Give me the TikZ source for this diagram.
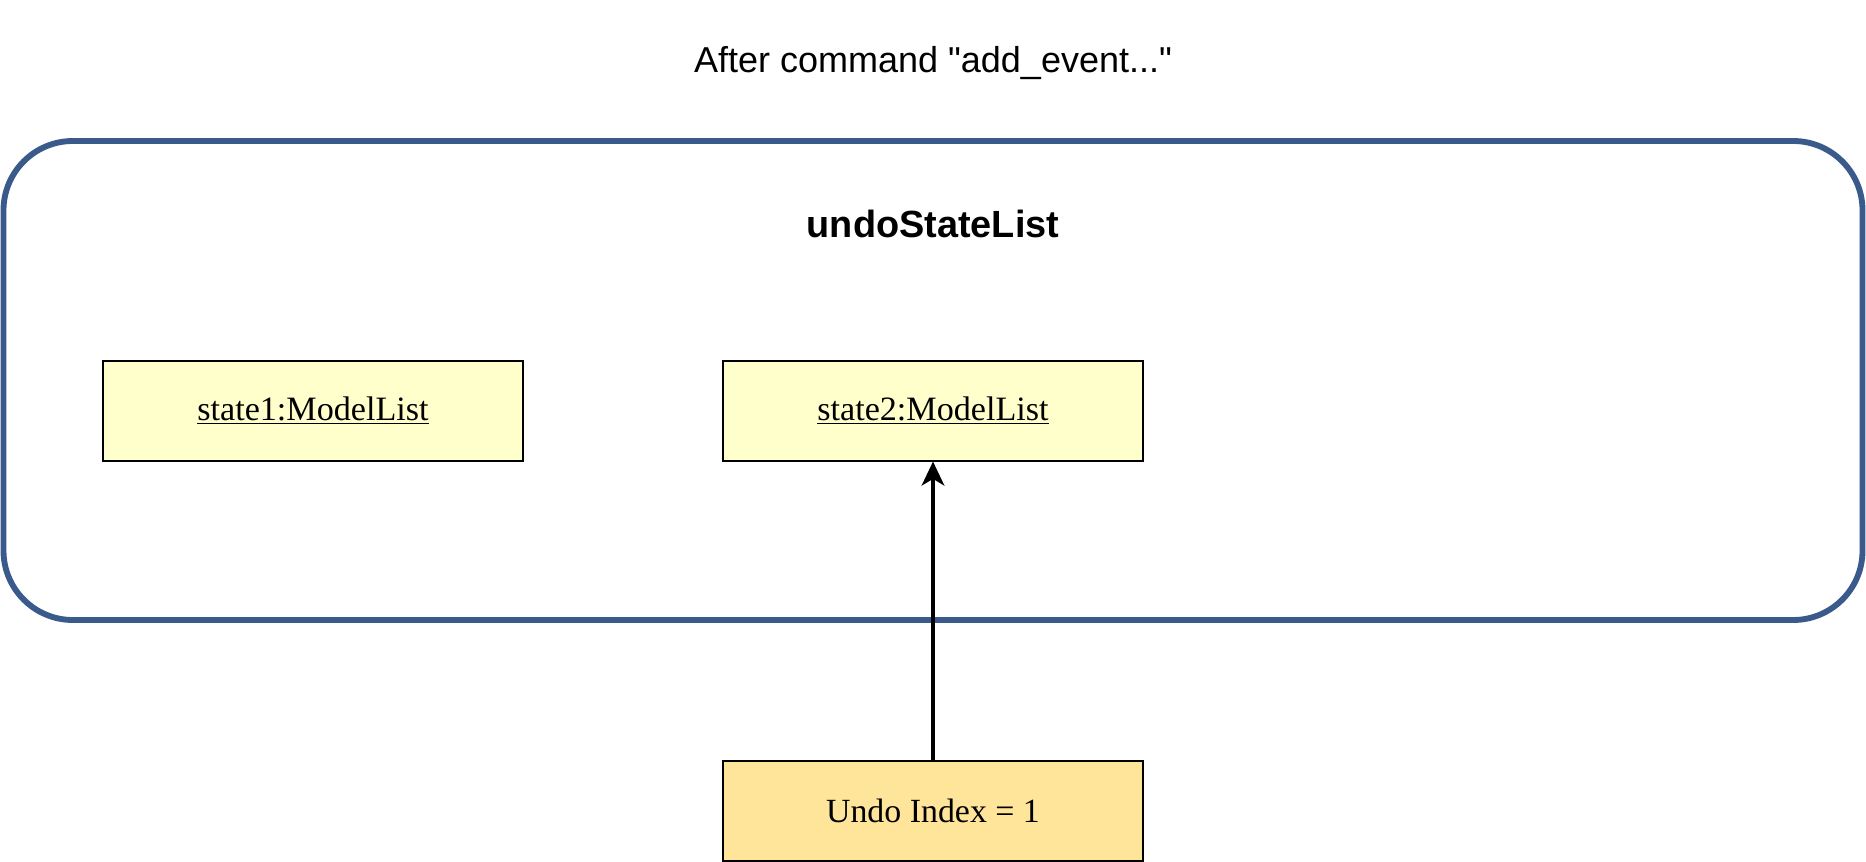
\documentclass[tikz,border=0pt]{standalone}
\usepackage{fontspec}
\setmainfont{Liberation Serif}
\newfontfamily\arialfont{Liberation Sans}
\usetikzlibrary{arrows.meta}
\definecolor{framecol}{HTML}{3A5A8C}
\definecolor{statefill}{HTML}{FFFFCC}
\definecolor{undofill}{HTML}{FFE599}
\begin{document}
\begin{tikzpicture}[x=0.75pt,y=-0.75pt,
  statebox/.style={draw=black,line width=1.3pt,fill=statefill,minimum width=315pt,minimum height=75pt,inner sep=0pt,font=\fontsize{25.6}{30}\selectfont},
  undobox/.style={draw=black,line width=1.3pt,fill=undofill,minimum width=315pt,minimum height=75pt,inner sep=0pt,font=\fontsize{25.4}{30}\selectfont},
  frame/.style={draw=framecol,line width=4.4pt,rounded corners=52pt},
  conn/.style={line width=2.3pt,-{Stealth[length=18pt,width=17pt,inset=5pt]}}]
\useasboundingbox (0,0) rectangle (1866,862);
\draw[frame] (3.5,141) rectangle (1862.5,620);
\node[font=\arialfont\fontsize{27}{32}\selectfont] (title) at (933,63) {After command "add\_event..."};
\node[font=\arialfont\bfseries\fontsize{28.4}{33}\selectfont] (listname) at (933,224) {undoStateList};
\node[statebox] (s1) at (313,410.7) {\raisebox{-2pt}{\underline{state1:ModelList}}};
\node[statebox] (s2) at (933,410.7) {\raisebox{-2pt}{\underline{state2:ModelList}}};
\node[undobox] (undo) at (933,810.7) {\raisebox{-1pt}{Undo Index = 1}};
\draw[conn] (undo.north) -- (s2.south);
\end{tikzpicture}
\end{document}
